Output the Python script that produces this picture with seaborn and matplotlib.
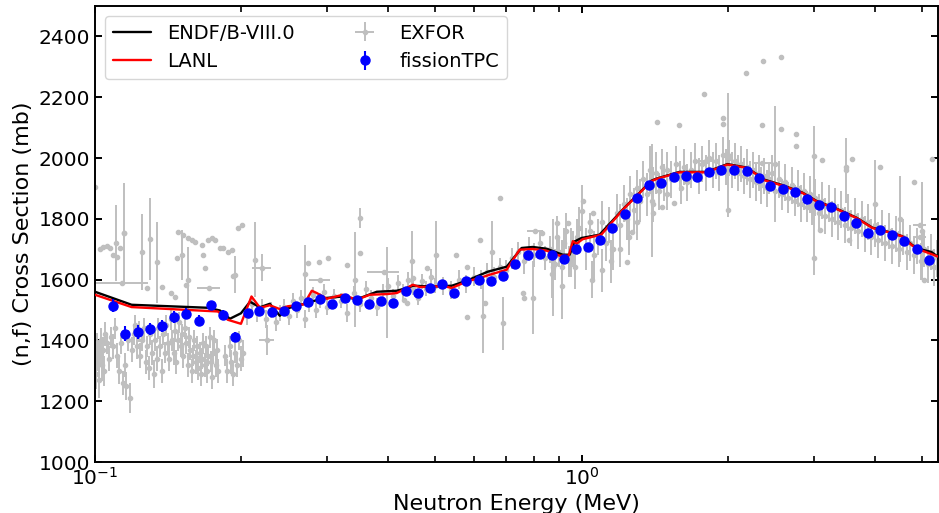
import numpy as np
import pandas as pd
import matplotlib
matplotlib.use("Agg")
import matplotlib.pyplot as plt
import seaborn as sns
from matplotlib.ticker import NullFormatter, LogLocator, MultipleLocator

# ---------------- data ----------------
# ENDF/B-VIII.0 evaluation
endf_E = [0.1000, 0.1189, 0.1706, 0.1806, 0.1893, 0.1995, 0.2082, 0.2183, 0.2287, 0.2398,
          0.2467, 0.2699, 0.2938, 0.3230, 0.3451, 0.3794, 0.4170, 0.4372, 0.4498, 0.4943,
          0.5409, 0.5807, 0.6412, 0.7015, 0.7528, 0.7932, 0.8474, 0.9141, 0.9449, 0.9674,
          1.0000, 1.0888, 1.2195, 1.3924, 1.4256, 1.5891, 1.8055, 1.9944, 2.1823, 2.3207,
          2.3530, 2.5863, 2.8432, 3.0383, 3.3393, 3.6700, 3.9592, 4.2896, 4.5610, 4.7830,
          5.0141, 5.2324, 5.4088]
endf_xs = [1560.0, 1517.2, 1507.3, 1498.4, 1471.1, 1489.2, 1527.1, 1508.9, 1520.5, 1481.0,
           1504.0, 1520.5, 1538.6, 1544.5, 1535.3, 1560.0, 1563.3, 1572.2, 1579.8, 1577.5,
           1579.8, 1596.2, 1625.9, 1642.4, 1704.0, 1707.3, 1701.6, 1681.9, 1681.9, 1725.7,
           1736.9, 1747.8, 1833.4, 1925.6, 1932.2, 1954.3, 1954.3, 1980.0, 1968.5, 1940.5,
           1930.6, 1910.8, 1886.1, 1858.8, 1833.4, 1803.8, 1770.8, 1756.0, 1742.8, 1713.2,
           1698.4, 1690.8, 1674.3]

# LANL evaluation
lanl_E = [0.1000, 0.1189, 0.1789, 0.1875, 0.1995, 0.2097, 0.2183, 0.2287, 0.2398, 0.2490,
          0.2687, 0.2790, 0.2857, 0.2995, 0.3230, 0.3451, 0.3670, 0.3978, 0.4170, 0.4372,
          0.4498, 0.4650, 0.5038, 0.5183, 0.5409, 0.5807, 0.6174, 0.6472, 0.7015, 0.7457,
          0.7932, 0.8474, 0.9012, 0.9404, 0.9596, 0.9766, 1.0048, 1.0977, 1.2157, 1.3905,
          1.4256, 1.5891, 1.8055, 1.9944, 2.1823, 2.3207, 2.3530, 2.5863, 2.8432, 3.0383,
          3.3393, 3.6700, 3.9592, 4.2896, 4.5610, 4.7830, 5.0141, 5.4088]
lanl_xs = [1550.1, 1509.6, 1495.1, 1467.8, 1454.6, 1544.5, 1507.3, 1515.5, 1503.0, 1512.2,
           1518.8, 1563.3, 1555.7, 1536.9, 1550.1, 1533.7, 1550.1, 1552.4, 1555.7, 1572.2,
           1583.1, 1575.5, 1577.5, 1579.8, 1572.2, 1593.9, 1605.1, 1616.0, 1632.5, 1698.4,
           1700.7, 1695.1, 1678.6, 1678.6, 1726.4, 1718.1, 1732.9, 1747.8, 1830.1, 1923.3,
           1931.2, 1953.0, 1953.0, 1978.4, 1967.5, 1939.8, 1928.8, 1909.2, 1885.1, 1857.5,
           1832.4, 1802.8, 1769.8, 1755.3, 1742.2, 1711.5, 1695.1, 1675.3]

# fissionTPC measurement
tpc_E = [0.1089, 0.1152, 0.1226, 0.1297, 0.1373, 0.1453, 0.1538, 0.1635, 0.1730, 0.1832,
         0.1939, 0.2061, 0.2172, 0.2309, 0.2444, 0.2587, 0.2739, 0.2897, 0.3067, 0.3261,
         0.3451, 0.3652, 0.3867, 0.4091, 0.4350, 0.4605, 0.4874, 0.5160, 0.5460, 0.5779,
         0.6143, 0.6502, 0.6884, 0.7284, 0.7743, 0.8198, 0.8677, 0.9184, 0.9721, 1.0288,
         1.0889, 1.1524, 1.2255, 1.2972, 1.3729, 1.4530, 1.5450, 1.6355, 1.7304, 1.8315,
         1.9385, 2.0612, 2.1823, 2.3095, 2.4444, 2.5987, 2.7507, 2.9117, 3.0816, 3.2611,
         3.4674, 3.6700, 3.8851, 4.1115, 4.3512, 4.6045, 4.8977, 5.1832]
tpc_xs = [1513.9, 1421.6, 1428.2, 1438.1, 1448.0, 1477.6, 1487.5, 1464.5, 1517.2, 1484.2,
          1411.8, 1490.8, 1497.4, 1494.1, 1497.4, 1513.9, 1527.1, 1536.9, 1520.5, 1540.2,
          1533.6, 1520.5, 1530.3, 1523.8, 1563.3, 1556.7, 1573.2, 1586.4, 1556.7, 1596.2,
          1599.5, 1596.2, 1612.7, 1652.2, 1681.9, 1685.2, 1681.9, 1668.7, 1701.6, 1708.2,
          1731.3, 1770.8, 1816.9, 1869.6, 1912.4, 1919.0, 1938.8, 1942.1, 1938.8, 1955.3,
          1961.9, 1961.9, 1958.6, 1935.5, 1909.2, 1899.3, 1889.4, 1866.3, 1846.6, 1840.0,
          1810.3, 1787.3, 1754.4, 1764.2, 1747.8, 1728.0, 1701.6, 1665.4]
tpc_err = [21, 25, 22, 20, 20, 20, 18, 18, 14, 15,
           15, 13, 13, 13, 12, 12, 12, 12, 12, 12,
           12, 12, 12, 12, 11, 11, 11, 11, 11, 11,
           11, 11, 11, 11, 11, 11, 11, 11, 11, 11,
           10, 10, 10, 10, 10, 10, 10, 10, 10, 10,
           10, 10, 10, 10, 10, 10, 10, 10, 10, 10,
           10, 10, 10, 10, 10, 10, 10, 10]

# EXFOR: dense low-energy band (0.1 - 0.2 MeV)
exA_E = [0.1000, 0.1005, 0.1010, 0.1015, 0.1020, 0.1025, 0.1030, 0.1035, 0.1040, 0.1045,
         0.1050, 0.1060, 0.1070, 0.1080, 0.1090, 0.1100, 0.1110, 0.1120, 0.1130, 0.1140,
         0.1150, 0.1160, 0.1170, 0.1180, 0.1190, 0.1200, 0.1210, 0.1220, 0.1230, 0.1240,
         0.1250, 0.1260, 0.1270, 0.1280, 0.1290, 0.1300, 0.1310, 0.1320, 0.1330, 0.1340,
         0.1350, 0.1360, 0.1370, 0.1380, 0.1390, 0.1400, 0.1410, 0.1420, 0.1430, 0.1440,
         0.1450, 0.1460, 0.1470, 0.1480, 0.1490, 0.1500, 0.1510, 0.1520, 0.1530, 0.1540,
         0.1550, 0.1560, 0.1570, 0.1580, 0.1590, 0.1600, 0.1610, 0.1620, 0.1630, 0.1640,
         0.1650, 0.1660, 0.1670, 0.1680, 0.1690, 0.1700, 0.1710, 0.1720, 0.1730, 0.1740,
         0.1750, 0.1760, 0.1770, 0.1780, 0.1790, 0.1850, 0.1870, 0.1890, 0.1900, 0.1920,
         0.1940, 0.1960, 0.1980, 0.2000]
exA_xs = [1330, 1290, 1380, 1350, 1270, 1360, 1400, 1320, 1370, 1300,
          1420, 1390, 1340, 1410, 1380, 1440, 1350, 1300, 1390, 1260,
          1320, 1250, 1400, 1210, 1370, 1420, 1450, 1380, 1430, 1350,
          1400, 1440, 1330, 1380, 1310, 1420, 1360, 1290, 1400, 1340,
          1440, 1380, 1300, 1420, 1360, 1450, 1390, 1340, 1470, 1400,
          1360, 1430, 1330, 1400, 1460, 1380, 1420, 1350, 1440, 1390,
          1320, 1410, 1370, 1300, 1350, 1400, 1330, 1380, 1310, 1360,
          1290, 1340, 1390, 1320, 1380, 1300, 1350, 1410, 1330, 1280,
          1360, 1400, 1320, 1370, 1300, 1350, 1300, 1380, 1330, 1290,
          1360, 1320, 1400, 1340]
exA_err = [60, 50, 45, 50, 60, 45, 40, 55, 40, 50,
           40, 35, 40, 35, 40, 35, 40, 45, 35, 40,
           40, 45, 35, 50, 40, 35, 35, 40, 35, 40,
           35, 35, 40, 35, 40, 35, 40, 45, 35, 40,
           35, 35, 40, 35, 35, 35, 35, 40, 35, 35,
           40, 35, 40, 35, 35, 35, 35, 40, 35, 35,
           40, 35, 35, 40, 35, 35, 40, 35, 40, 35,
           40, 35, 35, 40, 35, 40, 35, 35, 35, 40,
           35, 35, 40, 35, 40, 35, 40, 35, 40, 40,
           35, 40, 30, 40]

# EXFOR: isolated points (no visible error bar)
exB_E = [0.1000, 0.1024, 0.1038, 0.1058, 0.1073, 0.1089, 0.1110, 0.1125, 0.1147, 0.1481,
         0.1516, 0.1552, 0.1582, 0.1604, 0.1658, 0.1706, 0.1740, 0.1764, 0.1806, 0.1832,
         0.1875, 0.1910, 0.1966, 0.2003, 0.1473, 0.1666, 0.1683, 0.1919, 0.1280, 0.1370,
         0.1430, 0.1460, 0.1540, 0.2880, 0.3010, 0.2739, 0.3293, 0.3500, 0.6786, 0.6174,
         0.8275, 0.8887, 0.9361, 1.0048, 1.0385, 1.0534, 0.4805, 0.4498, 0.5511, 0.5807,
         0.7565, 0.7596, 0.5807, 0.6321, 0.4325, 0.4372, 0.6884, 1.4256, 1.5891, 1.7887,
         1.9567, 1.9567, 2.1723, 2.3637, 2.5747, 2.3530, 2.5747, 2.7639, 2.7639, 3.0090,
         3.1253, 3.6014, 4.1115, 4.8292, 5.2565, 3.4995, 3.0090, 3.0962, 3.5502, 5.0615,
         1.2373, 1.9944, 1.0385, 1.1524, 1.2700, 1.4030, 1.4620, 1.5450]
exB_xs = [1906, 1702, 1708, 1711, 1705, 1682, 1675, 1705, 1754, 1758,
          1748, 1738, 1731, 1725, 1715, 1731, 1738, 1731, 1705, 1705,
          1692, 1698, 1771, 1781, 1672, 1682, 1639, 1613, 1573, 1576,
          1557, 1544, 1583, 1659, 1672, 1655, 1649, 1688, 1870, 1731,
          1754, 1787, 1787, 1857, 1790, 1820, 1639, 1606, 1682, 1642,
          1557, 1540, 1478, 1524, 1534, 1524, 1609, 2120, 2110, 2209,
          2130, 2113, 2278, 2318, 2331, 2110, 2097, 2080, 2041, 2008,
          1992, 1998, 1972, 1922, 1998, 1972, 1672, 1764, 1731, 1600,
          1659, 1830, 1790, 1702, 1757, 1820, 1840, 1853]

# EXFOR: points with long error bars (and a few with energy bins)
exC_E = [0.1147, 0.1104, 0.1249, 0.1297, 0.1340, 0.1509, 0.1552, 0.1136, 0.1714, 0.1939,
         0.2203, 0.2130, 0.3500, 0.2699, 0.3922, 0.3978, 0.3418, 0.2897, 0.2254, 0.2014,
         0.4477, 0.5014, 0.6533, 0.6261, 0.6884, 0.7932, 0.8720, 0.9114, 1.0000, 0.8027,
         1.9944, 2.5028, 3.4995, 1.3924, 3.0090, 4.0152, 4.5186, 5.0141, 4.9500, 4.9500,
         1.8000, 2.1000, 2.3500, 0.8700, 0.8900, 0.9100, 0.9300, 0.9500, 0.9700, 0.9900]
exC_xs = [1754, 1720, 1690, 1735, 1657, 1682, 1598, 1590, 1573, 1616,
          1639, 1666, 1804, 1617, 1626, 1558, 1600, 1600, 1402, 1357,
          1660, 1682, 1692, 1480, 1456, 1540, 1640, 1580, 1826, 1761,
          2010, 1980, 1960, 1860, 1860, 1850, 1800, 1760, 1780, 1740,
          1990, 1975, 1985, 1620, 1740, 1640, 1760, 1690, 1640, 1770]
exC_err = [165, 125, 125, 135, 133, 82, 108, 0, 0, 60,
           44, 123, 33, 97, 0, 150, 156, 0, 50, 45,
           100, 110, 100, 120, 88, 120, 160, 110, 85, 0,
           205, 190, 107, 185, 245, 143, 142, 160, 0, 0,
           0, 0, 0, 80, 70, 90, 60, 80, 70, 70]
exC_dE = [0.0, 0.0, 0.0, 0.0, 0.0, 0.0, 0.0, 0.015, 0.009, 0.0,
          0.010, 0.0, 0.0, 0.0, 0.030, 0.0, 0.0, 0.015, 0.008, 0.0,
          0.0, 0.0, 0.0, 0.0, 0.0, 0.0, 0.0, 0.0, 0.0, 0.030,
          0.0, 0.0, 0.0, 0.0, 0.0, 0.0, 0.0, 0.0, 0.150, 0.150,
          0.060, 0.060, 0.100, 0.0, 0.0, 0.0, 0.0, 0.0, 0.0, 0.0]

# EXFOR: points close to the evaluations, 0.2 - 1.0 MeV
exD_E = [0.205, 0.210, 0.215, 0.220, 0.225, 0.230, 0.235, 0.240, 0.245, 0.250,
         0.255, 0.260, 0.265, 0.270, 0.275, 0.280, 0.285, 0.290, 0.295, 0.300,
         0.310, 0.320, 0.330, 0.340, 0.350, 0.360, 0.370, 0.380, 0.390, 0.400,
         0.410, 0.420, 0.430, 0.440, 0.450, 0.460, 0.470, 0.480, 0.490, 0.500,
         0.520, 0.540, 0.560, 0.580, 0.600, 0.620, 0.640, 0.660, 0.680, 0.700,
         0.720, 0.740, 0.760, 0.780, 0.800, 0.820, 0.840, 0.860, 0.880, 0.900,
         0.920, 0.940, 0.960, 0.980]
exD_xs = [1480, 1520, 1490, 1510, 1470, 1500, 1460, 1490, 1510, 1480,
          1530, 1500, 1540, 1470, 1520, 1550, 1500, 1530, 1560, 1510,
          1545, 1530, 1490, 1555, 1520, 1570, 1540, 1510, 1560, 1580,
          1545, 1590, 1560, 1600, 1575, 1540, 1595, 1570, 1610, 1580,
          1580, 1565, 1600, 1585, 1610, 1600, 1625, 1610, 1640, 1630,
          1670, 1690, 1660, 1700, 1680, 1720, 1670, 1700, 1650, 1690,
          1720, 1660, 1700, 1740]
exD_err = [30, 25, 30, 25, 30, 25, 30, 25, 25, 30,
           25, 25, 25, 30, 25, 25, 25, 25, 25, 25,
           25, 25, 30, 25, 25, 25, 25, 30, 25, 25,
           25, 25, 25, 25, 25, 25, 25, 25, 25, 25,
           30, 30, 30, 30, 30, 30, 30, 30, 30, 35,
           35, 35, 40, 40, 40, 40, 40, 45, 50, 50,
           50, 50, 60, 60]

# EXFOR: dense cloud 1 - 5.4 MeV
exE_E = [1.02, 1.04, 1.06, 1.08, 1.10, 1.12, 1.14, 1.16, 1.18, 1.20,
         1.22, 1.24, 1.26, 1.28, 1.30, 1.32, 1.34, 1.36, 1.38, 1.40,
         1.42, 1.44, 1.46, 1.48, 1.50, 1.53, 1.56, 1.59, 1.62, 1.65,
         1.68, 1.71, 1.74, 1.77, 1.80, 1.83, 1.86, 1.89, 1.92, 1.95,
         1.98, 2.01, 2.04, 2.07, 2.10, 2.13, 2.16, 2.19, 2.22, 2.25,
         2.28, 2.31, 2.34, 2.37, 2.40, 2.43, 1.05, 1.10, 1.15, 1.20,
         1.25, 1.30, 1.40, 1.50, 1.60,
         2.46, 2.50, 2.54, 2.58, 2.62, 2.66, 2.70, 2.74, 2.78, 2.82,
         2.86, 2.90, 2.94, 2.98, 3.02, 3.07, 3.12, 3.17, 3.22, 3.27,
         3.32, 3.37, 3.42, 3.47, 3.52, 3.58, 3.64, 3.70, 3.76, 3.82,
         3.88, 3.94, 4.00, 4.07, 4.14, 4.21, 4.28, 4.35, 4.42, 4.50,
         4.58, 4.66, 4.74, 4.82, 4.90, 4.98, 5.06, 5.14, 5.22, 5.30,
         5.38]
exE_xs = [1700, 1760, 1680, 1740, 1790, 1720, 1780, 1700, 1820, 1780,
          1850, 1800, 1880, 1830, 1900, 1860, 1930, 1880, 1960, 1910,
          1950, 1890, 1970, 1920, 1960, 1930, 1980, 1940, 1970, 1920,
          1960, 1990, 1940, 1980, 1950, 2000, 1960, 1990, 1950, 2010,
          1970, 2000, 1960, 1990, 1950, 1980, 1940, 1970, 1930, 1960,
          1920, 1950, 1910, 1940, 1900, 1930, 1600, 1630, 1660, 1700,
          1740, 1790, 1850, 1880, 1900,
          1950, 1890, 1930, 1880, 1920, 1870, 1910, 1860, 1900, 1850,
          1890, 1840, 1880, 1830, 1870, 1820, 1860, 1810, 1850, 1800,
          1840, 1790, 1830, 1780, 1820, 1770, 1810, 1760, 1800, 1750,
          1790, 1740, 1780, 1730, 1770, 1720, 1760, 1710, 1750, 1700,
          1740, 1690, 1720, 1680, 1710, 1660, 1700, 1650, 1690, 1640,
          1670]
exE_err = [70, 60, 80, 60, 70, 60, 60, 70, 60, 70,
           60, 70, 60, 70, 60, 70, 60, 70, 80, 60,
           70, 60, 60, 60, 60, 60, 60, 50, 60, 60,
           60, 60, 60, 60, 60, 60, 60, 60, 60, 60,
           60, 60, 60, 60, 60, 60, 60, 60, 60, 60,
           60, 60, 60, 60, 60, 50, 60, 70, 70, 60,
           60, 60, 60, 50, 50,
           60, 50, 60, 50, 60, 50, 60, 50, 60, 60,
           60, 50, 60, 50, 60, 60, 60, 60, 60, 60,
           60, 60, 60, 60, 60, 60, 60, 60, 60, 60,
           60, 60, 60, 60, 60, 60, 60, 60, 60, 60,
           60, 60, 60, 60, 60, 60, 60, 60, 60, 60,
           60]

# ---------------- assemble ----------------
exfor = pd.concat([
    pd.DataFrame({"E": exA_E, "xs": exA_xs, "dxs": exA_err, "dE": 0.0}),
    pd.DataFrame({"E": exB_E, "xs": exB_xs, "dxs": 0.0, "dE": 0.0}),
    pd.DataFrame({"E": exC_E, "xs": exC_xs, "dxs": exC_err, "dE": exC_dE}),
    pd.DataFrame({"E": exD_E, "xs": exD_xs, "dxs": exD_err, "dE": 0.0}),
    pd.DataFrame({"E": exE_E, "xs": exE_xs, "dxs": exE_err, "dE": 0.0}),
], ignore_index=True)

endf = pd.DataFrame({"E": endf_E, "xs": endf_xs})
lanl = pd.DataFrame({"E": lanl_E, "xs": lanl_xs})
tpc = pd.DataFrame({"E": tpc_E, "xs": tpc_xs, "err": tpc_err})

# ---------------- plot ----------------
sns.set_theme(style="ticks")
plt.rcParams["font.family"] = ["DejaVu Sans"]
plt.rcParams.update({
    "axes.linewidth": 1.4,
    "axes.edgecolor": "black",
    "axes.labelcolor": "black",
    "text.color": "black",
    "xtick.color": "black",
    "ytick.color": "black",
})

fig = plt.figure(figsize=(9.39, 5.13), dpi=100)
ax = fig.add_axes([95 / 939, 51 / 513, 843 / 939, 456 / 513])

exfor_h = ax.errorbar(exfor["E"], exfor["xs"], yerr=exfor["dxs"], xerr=exfor["dE"],
                      fmt=".", color="#bfbfbf", ms=6, elinewidth=1.4, capsize=0,
                      label="EXFOR", zorder=1)

sns.lineplot(data=endf, x="E", y="xs", color="black", lw=1.7, ax=ax,
             estimator=None, sort=False, label="ENDF/B-VIII.0", zorder=3)
sns.lineplot(data=lanl, x="E", y="xs", color="red", lw=1.7, ax=ax,
             estimator=None, sort=False, label="LANL", zorder=4)

tpc_h = ax.errorbar(tpc["E"], tpc["xs"], yerr=tpc["err"], fmt="o", color="blue",
                    ms=6.5, elinewidth=1.5, capsize=0, label="fissionTPC", zorder=5)

ax.set_xscale("log")
ax.set_xlim(0.1, 5.4)
ax.set_ylim(1000, 2500)
ax.yaxis.set_major_locator(MultipleLocator(200))
ax.xaxis.set_major_locator(LogLocator(base=10))
ax.xaxis.set_minor_locator(LogLocator(base=10, subs=np.arange(2, 10)))
ax.xaxis.set_minor_formatter(NullFormatter())

ax.set_xlabel("Neutron Energy (MeV)", fontsize=16, color="black")
ax.set_ylabel("(n,f) Cross Section (mb)", fontsize=16, color="black")
ax.tick_params(which="both", direction="in", top=True, right=True, labelsize=14.5,
               colors="black")
ax.tick_params(which="major", length=5, width=1.4)
ax.tick_params(which="minor", length=4.5, width=1.2)

handles, labels = ax.get_legend_handles_labels()
hmap = dict(zip(labels, handles))
order = ["ENDF/B-VIII.0", "LANL", "EXFOR", "fissionTPC"]
leg = ax.legend([hmap[k] for k in order], order, loc="upper left", ncol=2, fontsize=14,
                columnspacing=2.6)
for t in leg.get_texts():
    t.set_color("black")

fig.savefig("out.png", dpi=100)
